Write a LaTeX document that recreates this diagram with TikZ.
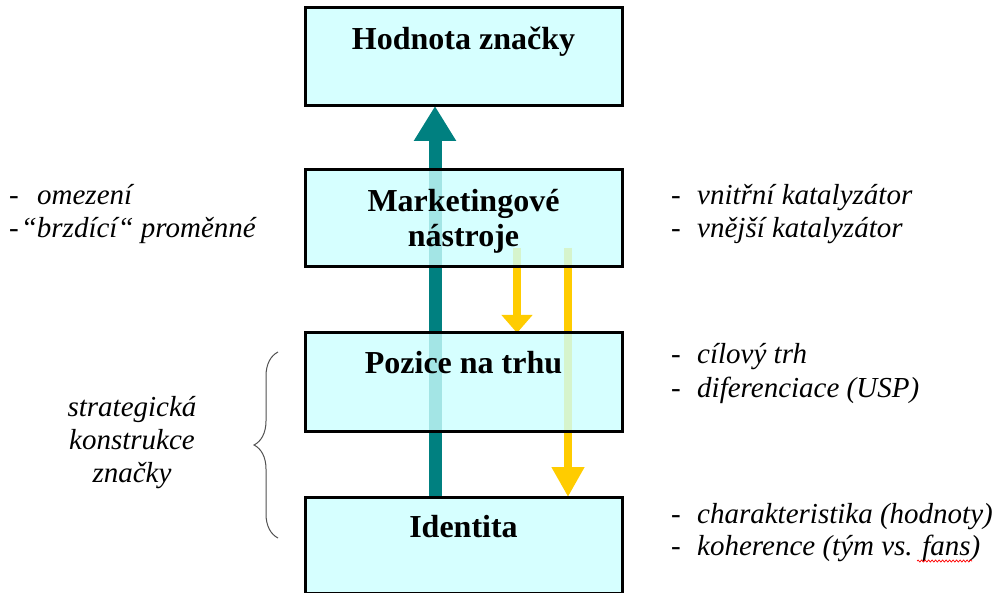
\documentclass[tikz,border=0pt]{standalone}
\usepackage{fontspec}
\setmainfont{Liberation Serif}[ItalicFont={Liberation Serif Italic},BoldFont={Liberation Serif Bold}]
\newfontfamily\sideitalic{Liberation Serif Italic}
\usetikzlibrary{arrows.meta,backgrounds,decorations.pathreplacing,decorations.pathmorphing,calc}
\definecolor{boxfill}{HTML}{CCFFFF}
\definecolor{tealarrow}{HTML}{008080}
\definecolor{yellowarrow}{HTML}{FFCC00}
\definecolor{bracegray}{HTML}{505050}
\tikzset{
  levelbox/.style={draw=black, line width=3pt, fill=boxfill, fill opacity=0.8, draw opacity=1,
    minimum width=317pt, inner sep=0pt, outer sep=0pt},
  boxtext/.style={font=\bfseries\fontsize{32}{35}\selectfont, inner sep=0pt, anchor=base},
  sidetext/.style={font=\sideitalic\fontsize{29}{33}\selectfont, inner sep=0pt, anchor=base west},
  centertext/.style={font=\sideitalic\fontsize{29}{33}\selectfont, inner sep=0pt, anchor=base},
  uparrow/.style={draw=tealarrow, line width=13pt, -{Triangle[width=40pt,length=35pt]}},
  downarrow/.style={draw=yellowarrow, line width=8pt},
}
\begin{document}
\begin{tikzpicture}[x=1pt,y=-1pt]
\useasboundingbox (0,0) rectangle (998,593);
% boxes
\node[levelbox, minimum height=98pt, anchor=north west] (hodnota) at (305,8) {};
\node[levelbox, minimum height=97pt, anchor=north west] (marketing) at (305,170) {};
\node[levelbox, minimum height=98pt, anchor=north west] (pozice) at (305,333) {};
\node[levelbox, minimum height=96pt, anchor=north west] (identita) at (305,497) {};
% arrows behind boxes
\coordinate (ys1) at (517,248);
\coordinate (ys2) at (568,248);
\begin{pgfonlayer}{background}
\draw[uparrow] (identita.north -| 435,0) -- (hodnota.south -| 435,0);
\draw[downarrow, -{Triangle[width=30pt,length=18pt]}] (ys1) -- (pozice.north -| ys1);
\draw[downarrow, -{Triangle[width=31pt,length=30pt]}] (ys2) -- (identita.north -| ys2);
\end{pgfonlayer}
% box texts
\node[boxtext] (thodnota) at (463.5,50) {Hodnota značky};
\node[boxtext] (tmark1) at (463.5,212) {Marketingové};
\node[boxtext] (tmark2) at (463.5,247) {nástroje};
\node[boxtext] (tpozice) at (463.5,373) {Pozice na trhu};
\node[boxtext] (tident) at (463.5,537) {Identita};
% left texts
\node[sidetext] (l1) at (9,205) {\makebox[28pt][l]{-}omezení};
\node[sidetext] (l2) at (9,238) {-\hspace{2pt}“brzdící“ proměnné};
\node[centertext] (s1) at (132,416) {strategická};
\node[centertext] (s2) at (132,449) {konstrukce};
\node[centertext] (s3) at (132,482) {značky};
% brace
\draw[bracegray, line width=1pt, decorate, decoration={brace, amplitude=24pt}] (278,538) -- (278,352);
% right texts
\node[sidetext] (r1) at (671,205) {\makebox[26pt][l]{-}vnitřní katalyzátor};
\node[sidetext] (r2) at (671,238) {\makebox[26pt][l]{-}vnější katalyzátor};
\node[sidetext] (r3) at (671,363) {\makebox[26pt][l]{-}cílový trh};
\node[sidetext] (r4) at (671,397) {\makebox[26pt][l]{-}diferenciace (USP)};
\node[sidetext] (r5) at (671,523) {\makebox[26pt][l]{-}charakteristika (hodnoty)};
\node[sidetext] (r6) at (671,555) {\makebox[26pt][l]{-}koherence (tým vs. fans)};
% spelling squiggle
\draw[red, line width=0.7pt, decorate, decoration={snake, amplitude=1pt, segment length=3.5pt}] (917,561) -- (972,561);
\end{tikzpicture}
\end{document}
